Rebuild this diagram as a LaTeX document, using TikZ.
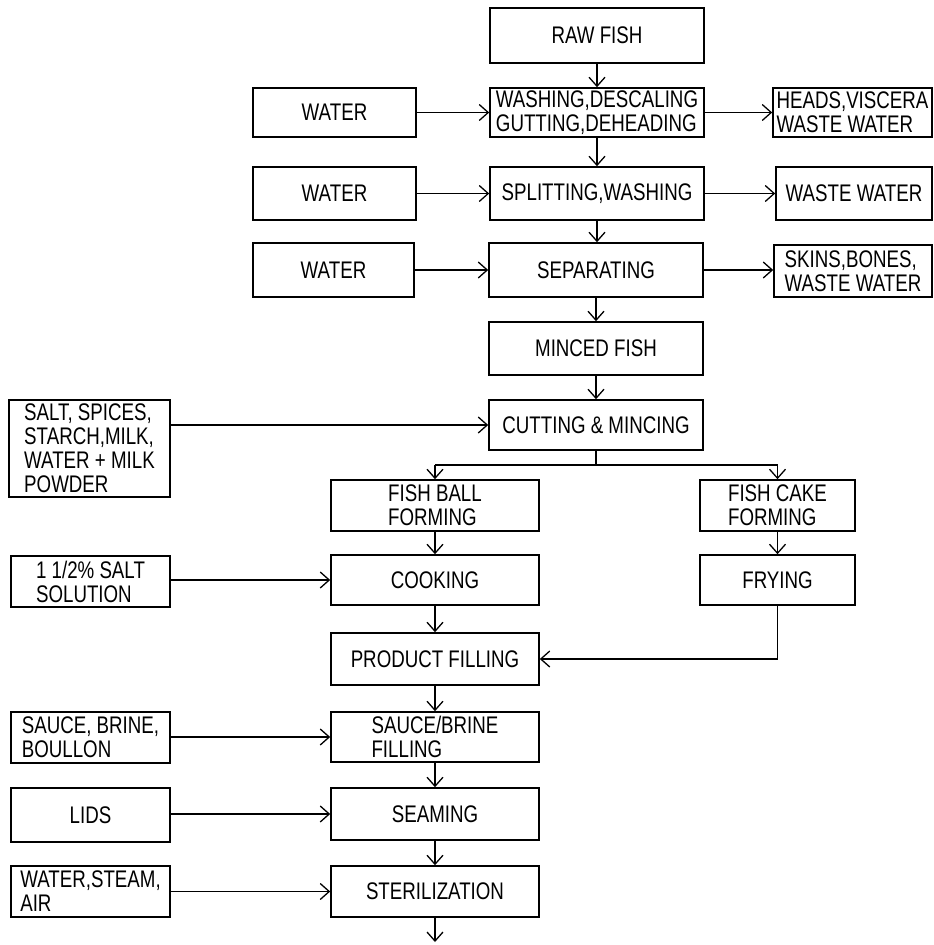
\documentclass[tikz,border=0pt]{standalone}
\usepackage{fontspec}
\setmainfont[FakeStretch=0.78]{Liberation Sans}
\usetikzlibrary{arrows.meta}
\newcommand\mybox[6]{%
  \node[box, minimum width={(#4-#2)*1pt}, minimum height={(#5-#3)*1pt}]
    (#1) at ({(#2+#4)/2},{(#3+#5)/2}) {#6};}
\begin{document}
\begin{tikzpicture}[x=1pt,y=-1pt,
  box/.style={draw, line width=1.6pt, inner sep=0.5pt, align=left,
    font=\fontsize{24}{24}\selectfont},
  flow/.style={line width=1.3pt,
    -{Straight Barb[length=9pt,width=16pt,line width=1.3pt]}},
  plain/.style={line width=1.3pt}]
\useasboundingbox (0,0) rectangle (934,945);

% main column (top)
\mybox{raw}{490}{8}{704}{63}{RAW FISH}
\mybox{wash}{490}{88}{704}{137}{WASHING,DESCALING\\GUTTING,DEHEADING}
\mybox{split}{490}{167}{704}{220}{SPLITTING,WASHING}
\mybox{sep}{489}{243}{703}{297}{SEPARATING}
\mybox{minced}{489}{322}{703}{375}{MINCED FISH}
\mybox{cut}{489}{400}{703}{450}{CUTTING \& MINCING}

% left inputs (top)
\mybox{water1}{253}{88}{416}{137}{WATER}
\mybox{water2}{253}{167}{416}{220}{WATER}
\mybox{water3}{253}{243}{414}{297}{WATER}
\mybox{salt}{9}{400}{170}{497}{SALT, SPICES,\\STARCH,MILK,\\WATER + MILK\\POWDER}

% right outputs
\mybox{heads}{773}{88}{932}{137}{HEADS,VISCERA\\WASTE WATER}
\mybox{waste}{776}{167}{932}{220}{WASTE WATER}
\mybox{skins}{774}{245}{932}{297}{SKINS,BONES,\\WASTE WATER}

% branches
\mybox{fball}{331}{480}{539}{531}{FISH BALL\\FORMING}
\mybox{fcake}{700}{480}{855}{531}{FISH CAKE\\FORMING}
\mybox{cook}{331}{555}{539}{605}{COOKING}
\mybox{fry}{700}{555}{855}{605}{FRYING}
\mybox{salttwo}{11}{556}{170}{607}{1 1/2\% SALT\\SOLUTION}

% main column (bottom)
\mybox{prod}{331}{633}{539}{685}{PRODUCT FILLING}
\mybox{sauce}{331}{712}{539}{762}{SAUCE/BRINE\\FILLING}
\mybox{seam}{331}{788}{539}{840}{SEAMING}
\mybox{ster}{331}{866}{539}{917}{STERILIZATION}

% left inputs (bottom)
\mybox{sin}{11}{712}{170}{763}{SAUCE, BRINE,\\BOULLON}
\mybox{lids}{11}{788}{170}{842}{LIDS}
\mybox{wsa}{11}{866}{170}{917}{WATER,STEAM,\\AIR}

\coordinate (br) at (597,465);
\coordinate (out) at (435,942);

% vertical flow (top)
\draw[flow] (raw.south) -- (raw.south |- wash.north);
\draw[flow] (wash.south) -- (wash.south |- split.north);
\draw[flow] (split.south) -- (split.south |- sep.north);
\draw[flow] (sep.south) -- (sep.south |- minced.north);
\draw[flow] (minced.south) -- (minced.south |- cut.north);

% horizontal inputs / outputs (top)
\draw[flow] (water1.east) -- (wash.west);
\draw[flow] (wash.east) -- (heads.west);
\draw[flow] (water2.east) -- (split.west);
\draw[flow] (split.east) -- (waste.west);
\draw[flow] (water3.east) -- (sep.west);
\draw[flow] (sep.east) -- (sep.east -| skins.west);
\draw[flow] (salt.east |- cut.west) -- (cut.west);

% split into two lines
\draw[plain] (cut.south) -- (cut.south |- br);
\draw[plain] (fball.north |- br) -- (fcake.north |- br);
\draw[flow] (fball.north |- br) -- (fball.north);
\draw[flow] (fcake.north |- br) -- (fcake.north);

\draw[flow] (fball.south) -- (cook.north);
\draw[flow] (fcake.south) -- (fry.north);
\draw[flow] (salttwo.east |- cook.west) -- (cook.west);
\draw[flow] (cook.south) -- (prod.north);
\draw[flow] (fry.south) |- (prod.east);

% bottom column
\draw[flow] (prod.south) -- (sauce.north);
\draw[flow] (sin.east |- sauce.west) -- (sauce.west);
\draw[flow] (sauce.south) -- (seam.north);
\draw[flow] (lids.east |- seam.west) -- (seam.west);
\draw[flow] (seam.south) -- (ster.north);
\draw[flow] (wsa.east |- ster.west) -- (ster.west);
\draw[flow] (ster.south) -- (out);
\end{tikzpicture}
\end{document}
